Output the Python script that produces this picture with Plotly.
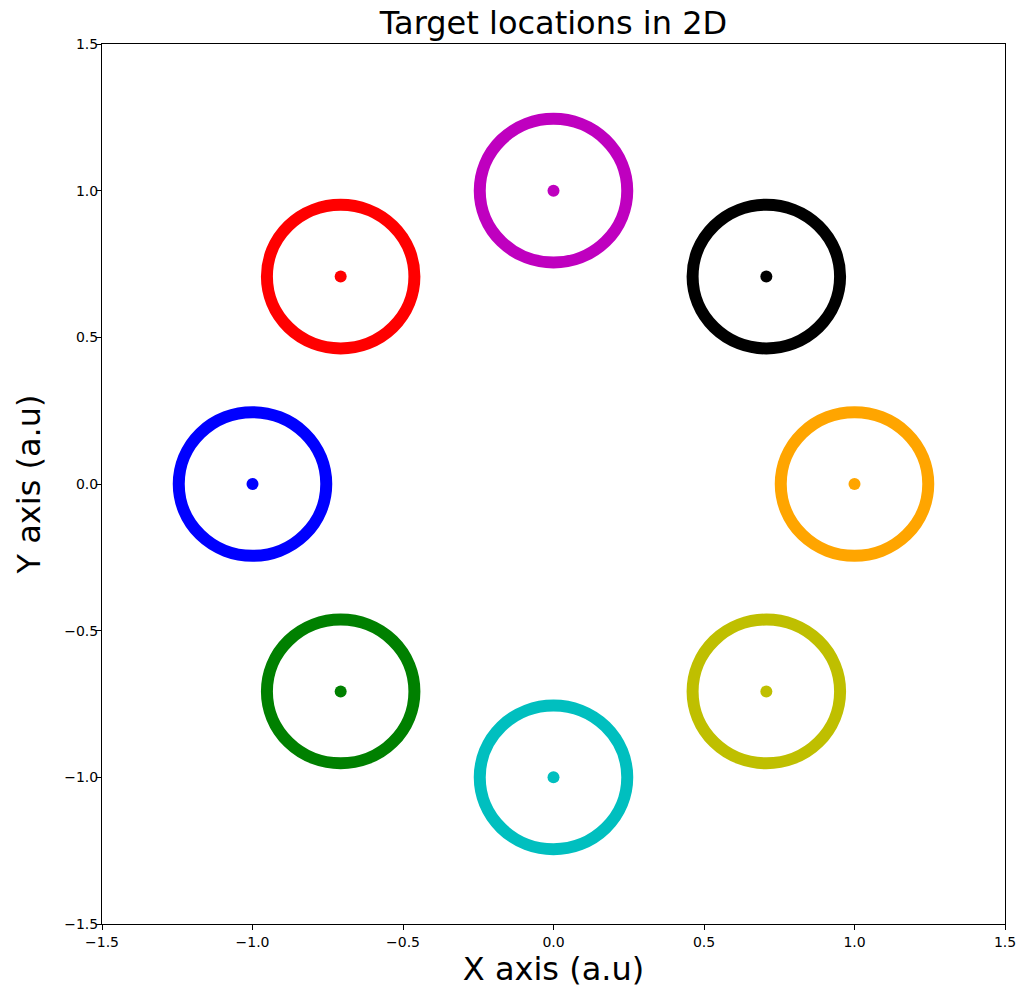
import plotly.graph_objects as go

# Target centres (a.u.) and their colours
target_x = [1.0, 0.7071, 0.0, -0.7071, -1.0, -0.7071, 0.0, 0.7071]
target_y = [0.0, 0.7071, 1.0, 0.7071, 0.0, -0.7071, -1.0, -0.7071]
target_colors = ["#FFA500", "#000000", "#BF00BF", "#FF0000",
                 "#0000FF", "#008000", "#00BFBF", "#BFBF00"]
target_radius = 0.245

tick_vals = [-1.5, -1.0, -0.5, 0.0, 0.5, 1.0, 1.5]

FONT = "DejaVu Sans"

fig = go.Figure()

# Target zone rings
for cx, cy, col in zip(target_x, target_y, target_colors):
    fig.add_shape(
        type="circle", xref="x", yref="y",
        x0=cx - target_radius, x1=cx + target_radius,
        y0=cy - target_radius, y1=cy + target_radius,
        line=dict(color=col, width=12), layer="above",
    )

# Target centre dots
fig.add_trace(go.Scatter(
    x=target_x, y=target_y, mode="markers",
    marker=dict(color=target_colors, size=12, line=dict(width=0)),
    showlegend=False, hoverinfo="x+y",
))

axis_common = dict(
    range=[-1.5, 1.5], tickvals=tick_vals, tickformat=".1f",
    showgrid=False, zeroline=False, automargin=False,
    showline=True, linecolor="black", linewidth=1, mirror=True,
    ticks="outside", ticklen=5, tickcolor="black", tickwidth=1,
    tickfont=dict(family=FONT, size=14, color="black"),
)

fig.update_layout(
    width=1018, height=988,
    margin=dict(l=102, r=13, t=44, b=64),
    paper_bgcolor="white", plot_bgcolor="white",
    title=dict(text="Target locations in 2D", x=0.5, xanchor="center",
               xref="paper",
               y=1 - 23 / 988, yanchor="middle",
               font=dict(family=FONT, size=32, color="black")),
    xaxis=dict(**axis_common,
               title=dict(text="X axis (a.u)", standoff=6,
                          font=dict(family=FONT, size=32, color="black"))),
    yaxis=dict(**axis_common, ticklabelstandoff=-5,
               title=dict(text="Y axis (a.u)", standoff=14,
                          font=dict(family=FONT, size=32, color="black"))),
)

fig.write_html("out.html")
